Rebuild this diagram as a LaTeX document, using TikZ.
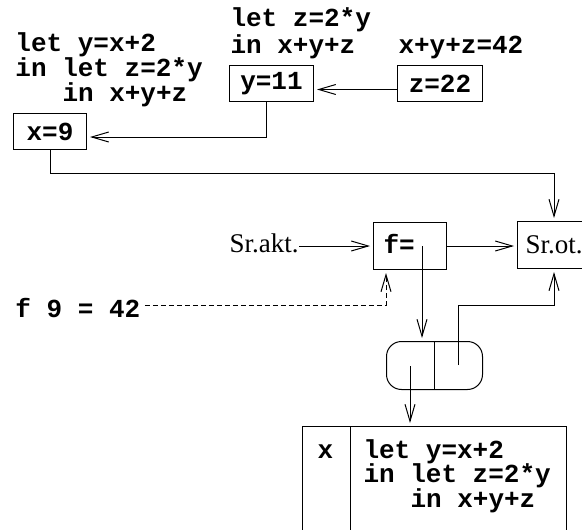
\documentclass[tikz,border=0pt]{standalone}
\usepackage{fontspec}
\setmainfont{Liberation Serif}
\setmonofont{Liberation Mono}
\usetikzlibrary{arrows.meta}
\begin{document}
\begin{tikzpicture}[x=1pt,y=-1pt,line width=1pt,
  code/.style={font=\fontsize{26}{24}\selectfont\ttfamily\bfseries,inner sep=0pt,anchor=base west},
  rmtext/.style={font=\fontsize{27}{28}\selectfont,inner sep=0pt,anchor=base west},
  box/.style={draw,inner sep=0pt,anchor=north west},
  arr/.style={-{Straight Barb[length=17pt,width=10pt]},shorten >=3pt}]
\useasboundingbox (0,0) rectangle (582,530);
% code texts
\node[code] (t1) at (230,27) {let z=2*y};
\node[code] (t2) at (230,53) {in x+y+z};
\node[code] (t3) at (398,53) {x+y+z=42};
\node[code] (a1) at (15,52) {let y=x+2};
\node[code] (a2) at (15,76) {in let z=2*y};
\node[code] (a3) at (62,101) {in x+y+z};
% boxes
\node[box,minimum width=84pt,minimum height=36pt,font=\fontsize{26}{24}\selectfont\ttfamily\bfseries] (y11) at (229,65) {y=11};
\node[box,minimum width=85pt,minimum height=36pt,font=\fontsize{26}{24}\selectfont\ttfamily\bfseries] (z22) at (397,65) {z=22};
\node[box,minimum width=73pt,minimum height=36pt,font=\fontsize{26}{24}\selectfont\ttfamily\bfseries] (x9) at (13,113) {x=9};
\node[box,minimum width=73pt,minimum height=47pt] (fbox) at (373,222) {};
\node[code] (flbl) at (383,253) {f=};
\node[box,minimum width=90pt,minimum height=47pt] (srot) at (517,221) {};
\node[rmtext] (srotlbl) at (525,253) {Sr.ot.};
\node[rmtext] (sakt) at (229,252) {Sr.akt.};
\node[code] (f942) at (15,317) {f 9 = 42};
\node[box,minimum width=96pt,minimum height=48pt,rounded corners=15pt] (rb) at (386,341) {};
\draw (rb.north) -- (rb.south);
\node[box,minimum width=264pt,minimum height=130pt] (bb) at (302,426) {};
\coordinate (bdiv) at (350,426);
\draw (bdiv) -- (bdiv |- bb.south);
\node[code] (bx) at (317,458) {x};
\node[code] (b1) at (363,458) {let y=x+2};
\node[code] (b2) at (363,482) {in let z=2*y};
\node[code] (b3) at (410,507) {in x+y+z};
% connectors
\draw[arr] ([yshift=-6pt]z22.west) -- ([yshift=-6pt]z22.west -| y11.east);
\coordinate (c1) at (266,137);
\draw[arr] (y11.south -| c1) -- (c1) -- (c1 -| x9.east);
\coordinate (c2) at (50,173);
\coordinate (c3) at (554,173);
\draw[arr] (x9.south -| c2) -- (c2) -- (c3) -- (c3 |- srot.north);
\draw[arr] (sakt.east |- fbox.west) -- (fbox.west);
\draw[arr] (fbox.east) -- (fbox.east -| srot.west);
\coordinate (fin) at (422,246);
\draw[arr] (fin) -- (fin |- rb.north);
\coordinate (c4) at (386,305);
\draw[arr,dash pattern=on 5pt off 3pt] ([xshift=4pt]f942.east |- c4) -- (c4) -- (c4 |- fbox.south);
\coordinate (c5) at (458,365);
\coordinate (c6) at (554,305);
\draw[arr] (c5) -- (c5 |- c6) -- (c6) -- (c6 |- srot.south);
\coordinate (c7) at (410,366);
\draw[arr] (c7) -- (c7 |- bb.north);
\end{tikzpicture}
\end{document}
